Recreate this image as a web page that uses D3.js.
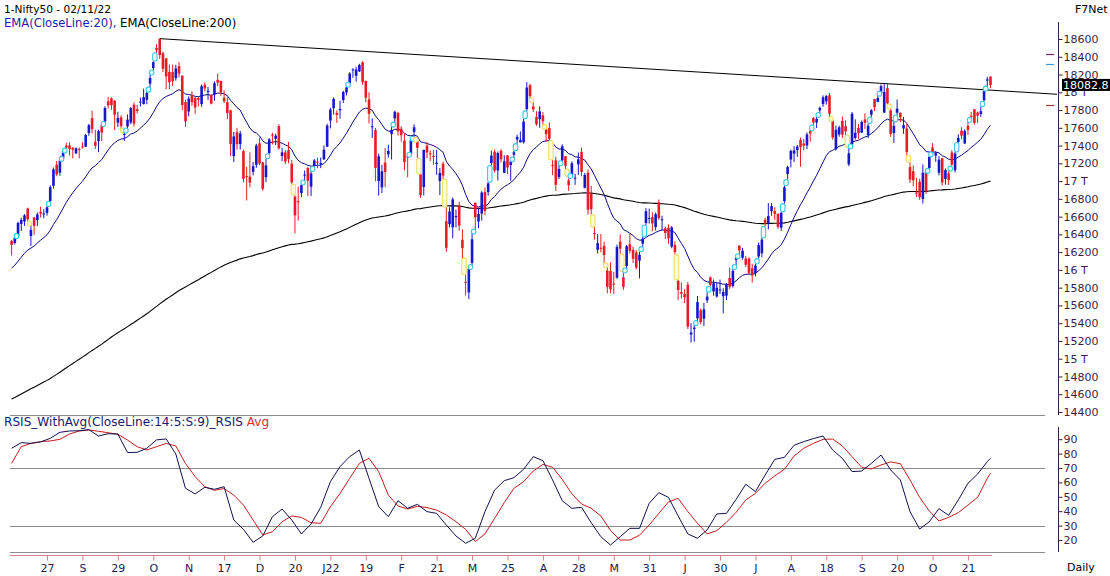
<!DOCTYPE html>
<html><head><meta charset="utf-8">
<script src="https://cdn.jsdelivr.net/npm/d3@7"></script>
<style>
body{margin:0;background:#fff}
svg{display:block}
text{font-family:"DejaVu Sans",Verdana,sans-serif;font-size:11px}
.t1{font-size:10.6px}
.t2{font-size:11.6px}
.t3{font-size:12.1px}
</style>
</head><body>
<svg id="chart" width="1110" height="576"></svg>
<script>
// ---- Daily OHLC, Nifty50, Aug 11 2021 .. Nov 2 2022 : [open, high, low, close]
const aug21=[[16327,16338,16162,16282],[16303,16375,16286,16364],[16385,16543,16385,16529],[16518,16589,16438,16563],[16545,16628,16496,16614],[16691,16701,16535,16569],[16382,16509,16270,16451],[16592,16592,16395,16497],[16562,16647,16495,16625],[16654,16712,16589,16634],[16627,16683,16582,16636],[16642,16723,16611,16705],[16775,16951,16764,16931],[16947,17153,16916,17132]];
const sep21=[[17185,17225,17055,17076],[17095,17245,17059,17234],[17262,17340,17255,17323],[17399,17430,17346,17377],[17401,17437,17287,17362],[17375,17383,17254,17353],[17313,17379,17304,17369],[17363,17378,17255,17355],[17390,17438,17367,17380],[17387,17532,17386,17519],[17540,17644,17510,17630],[17709,17793,17537,17585],[17443,17578,17361,17397],[17450,17578,17326,17562],[17630,17640,17450,17546],[17670,17843,17646,17823],[17897,17947,17819,17853],[17932,17943,17802,17855],[17906,17913,17576,17748],[17658,17781,17608,17711],[17718,17742,17585,17618]];
const oct21=[[17531,17557,17452,17532],[17615,17750,17581,17692],[17661,17833,17640,17822],[17861,17884,17613,17646],[17810,17857,17763,17790],[17886,17941,17840,17895],[17867,18041,17864,17946],[17916,18008,17865,17992],[18097,18197,18051,18162],[18273,18350,18248,18339],[18500,18543,18445,18477],[18602,18604,18377,18419],[18439,18458,18228,18266],[18382,18384,18033,18178],[18230,18314,18034,18114],[18229,18310,18070,18125],[18159,18310,18131,18268],[18295,18342,18167,18210],[18187,18190,17799,17857],[17890,17916,17613,17671]];
const nov21=[[17783,17954,17729,17929],[17970,18012,17847,17889],[17935,17947,17757,17829],[17935,17947,17839,17916],[17867,18087,17836,18068],[18085,18112,18010,18044],[18001,18061,17915,18017],[17967,17977,17863,17873],[17977,18123,17905,18102],[18140,18210,18071,18109],[18127,18132,17959,17999],[17939,18022,17879,17898],[17890,17945,17697,17765],[17796,17805,17280,17417],[17281,17553,17216,17503],[17550,17600,17354,17416],[17417,17564,17355,17537],[17338,17355,16985,17026],[17056,17160,16782,17054],[17051,17324,16931,16983]];
const dec21=[[17104,17214,17064,17167],[17183,17420,17149,17401],[17424,17489,17180,17197],[17210,17216,16891,16913],[17044,17251,16988,17177],[17315,17484,17308,17470],[17524,17543,17412,17517],[17476,17534,17406,17511],[17619,17640,17355,17368],[17283,17376,17225,17324],[17323,17351,17192,17221],[17348,17440,17200,17248],[17196,17237,16966,16985],[16825,16840,16410,16614],[16773,16937,16555,16771],[16865,16971,16819,16955],[17066,17119,16998,17073],[17149,17155,16834,17003],[16937,17112,16833,17086],[17177,17250,17161,17233],[17220,17263,17146,17213],[17201,17264,17146,17204],[17245,17400,17238,17354]];
const jan22=[[17388,17646,17383,17625],[17681,17827,17593,17805],[17820,17944,17750,17925],[17768,17797,17655,17745],[17797,17905,17704,17812],[17913,18017,17879,18003],[17998,18081,17964,18055],[18100,18227,18088,18212],[18257,18272,18163,18257],[18185,18286,18119,18256],[18235,18321,18228,18308],[18337,18350,18085,18114],[18129,18129,17885,17938],[17921,18000,17648,17757],[17613,17707,17486,17617],[17575,17599,16998,17149],[17001,17309,16837,17278],[16929,17182,16866,17110],[17208,17373,16932,17102],[17301,17410,17264,17340]];
const feb22=[[17529,17622,17244,17577],[17706,17794,17650,17780],[17767,17781,17511,17560],[17590,17617,17444,17516],[17456,17536,17119,17213],[17280,17294,17043,17266],[17300,17477,17300,17464],[17554,17640,17478,17606],[17451,17454,17257,17375],[17077,17077,16810,16843],[16933,17353,16839,17352],[17400,17440,17257,17322],[17314,17344,17225,17304],[17283,17348,17182,17276],[17193,17352,17070,17207],[17000,17148,16843,17092],[17195,17219,17024,17063],[16548,16706,16203,16248],[16516,16705,16478,16658],[16481,16815,16357,16794]];
const mar22=[[16593,16678,16478,16606],[16723,16768,16443,16498],[16339,16456,16133,16245],[15867,15945,15711,15863],[15747,16028,15671,16013],[16079,16418,16039,16345],[16757,16757,16447,16594],[16545,16694,16470,16630],[16633,16887,16555,16871],[16877,16928,16615,16663],[16876,16987,16837,16975],[17203,17344,17175,17287],[17329,17353,17096,17118],[17120,17334,17006,17316],[17342,17359,17208,17245],[17094,17292,17091,17223],[17289,17294,17080,17153],[17181,17236,17004,17222],[17297,17343,17250,17325],[17468,17523,17422,17498],[17436,17559,17435,17464]];
const apr22=[[17437,17703,17422,17670],[17810,18114,17791,18053],[18080,18095,17921,17957],[17842,17901,17779,17807],[17723,17787,17623,17640],[17698,17842,17600,17784],[17740,17779,17624,17674],[17584,17597,17442,17530],[17599,17663,17457,17476],[17183,17237,17067,17174],[17234,17275,16888,16958],[17045,17186,17023,17137],[17234,17414,17215,17392],[17281,17281,17136,17172],[17008,17054,16889,16954],[17065,17223,17060,17201],[17035,17083,16958,17038],[17189,17322,17071,17245],[17329,17378,17054,17103]];
const may22=[[16925,17092,16917,17069],[17096,17132,16623,16678],[16855,16946,16623,16683],[16415,16485,16340,16411],[16227,16404,16185,16302],[16249,16404,16197,16240],[16271,16318,16066,16167],[15993,16041,15736,15808],[15987,16084,15736,15782],[15845,15977,15728,15842],[15912,16284,15900,16259],[16318,16400,16180,16240],[15917,15984,15775,15809],[16044,16283,16003,16266],[16290,16414,16185,16215],[16225,16262,16078,16125],[16196,16223,16006,16026],[16105,16204,15904,16170],[16296,16370,16262,16352],[16528,16696,16506,16661],[16578,16690,16521,16585]];
const jun22=[[16594,16649,16438,16523],[16482,16646,16443,16628],[16761,16793,16563,16584],[16570,16610,16444,16570],[16469,16487,16347,16416],[16474,16514,16293,16356],[16263,16492,16244,16479],[16283,16324,16172,16202],[15877,15887,15659,15774],[15750,15858,15679,15732],[15729,15783,15626,15692],[15833,15864,15335,15361],[15272,15400,15183,15294],[15334,15382,15191,15350],[15455,15707,15419,15638],[15545,15565,15385,15413],[15451,15628,15368,15557],[15657,15749,15628,15699],[15916,15927,15815,15832],[15758,15892,15710,15850],[15701,15861,15687,15799],[15774,15891,15728,15780]];
const jul22=[[15704,15793,15511,15752],[15710,15852,15661,15835],[15909,16025,15785,15810],[15818,16011,15800,15989],[16113,16150,16053,16133],[16274,16275,16157,16220],[16137,16248,16115,16216],[16127,16158,16031,16058],[16129,16140,15950,15967],[16019,16070,15858,15938],[15964,16067,15927,16049],[16151,16308,16127,16279],[16187,16359,16143,16341],[16563,16588,16490,16521],[16523,16752,16456,16606],[16661,16752,16610,16719],[16662,16707,16564,16631],[16632,16635,16462,16484],[16475,16653,16438,16642],[16774,16947,16746,16930],[17079,17172,17018,17158]];
const aug22=[[17243,17356,17154,17340],[17310,17391,17215,17345],[17349,17407,17273,17388],[17463,17490,17161,17382],[17423,17474,17348,17398],[17401,17548,17359,17525],[17566,17566,17442,17535],[17711,17719,17631,17659],[17659,17724,17597,17699],[17797,17839,17765,17825],[17868,17965,17836,17944],[17898,17969,17861,17957],[17967,17992,17710,17758],[17682,17690,17467,17491],[17357,17625,17345,17578],[17525,17625,17500,17605],[17679,17727,17487,17523],[17619,17685,17519,17559],[17188,17380,17167,17313],[17414,17778,17400,17760]];
const sep22=[[17485,17695,17468,17543],[17598,17643,17476,17539],[17546,17683,17541,17666],[17695,17764,17587,17656],[17519,17650,17484,17624],[17748,17810,17722,17798],[17923,17925,17786,17833],[17891,17980,17889,17936],[17990,18088,17990,18070],[17771,18091,17771,18004],[18046,18096,17861,17877],[17796,17820,17497,17531],[17541,17667,17429,17622],[17770,17919,17744,17816],[17770,17773,17663,17718],[17593,17722,17532,17630],[17593,17642,17291,17327],[17157,17212,16979,17016],[17111,17176,16942,17008],[16871,17037,16820,16859],[16993,17027,16788,16819],[16799,17188,16747,17094]];
const oct22=[[17102,17114,16855,16887],[17147,17287,17117,17274],[17379,17428,17315,17331],[17287,17337,17216,17315],[17094,17280,17064,17241],[17257,17262,16950,16984],[17025,17142,16960,17124],[17087,17112,16956,17014],[17322,17348,17169,17186],[17122,17328,17098,17311],[17438,17527,17434,17486],[17568,17607,17472,17512],[17423,17584,17421,17564],[17622,17670,17520,17576],[17736,17778,17707,17731],[17808,17811,17637,17656],[17771,17783,17654,17737],[17756,17838,17723,17787],[17910,18022,17899,18012]];
const nov22=[[18131,18175,18060,18145],[18177,18178,18048,18082.8]];

// EMA starting values read at the first bar
const ema20Start = 16020;
const ema200Start = 14546;

// Trend line anchors: [bar index, price]
const trendFrom = [46, 18604];
const trendTo = [272, 18096];

// Small level marks at the right edge
const levelMarks = [18432, 18319, 17857];

// RSI panel (read every 3 bars)
const rsiBars = [0,3,6,9,12,15,18,21,24,27,30,33,36,39,42,45,48,51,54,57,60,63,66,69,72,75,78,81,84,87,90,93,96,99,102,105,108,111,114,117,120,123,126,129,132,135,138,141,144,147,150,153,156,159,162,165,168,171,174,177,180,183,186,189,192,195,198,201,204,207,210,213,216,219,222,225,228,231,234,237,240,243,246,249,252,255,258,261,264,267,270,273,276,279,282,285,288,291,294,297,300,303,304];
const rsiValues = [83.7,87.6,87.1,88.1,90.6,94.8,95.7,95.9,96.6,92.2,93.8,93.6,80.7,80.9,83.7,89.5,90.2,79.7,55.9,52.0,56.6,55.2,57.0,33.9,27.4,18.4,22.8,36.2,41.5,33.9,24.2,31.1,42.7,60.5,71.0,77.9,82.5,62.8,43.2,36.2,47.3,42.0,44.8,39.7,38.5,30.4,22.8,17.7,21.2,39.7,54.7,61.2,63.3,69.1,77.9,75.1,61.7,47.3,42.0,42.7,32.0,22.3,16.5,22.3,28.1,28.1,45.5,52.9,49.6,36.7,24.2,21.2,27.0,38.1,38.5,48.2,58.7,53.6,65.1,76.0,77.4,85.8,88.3,90.4,92.2,82.5,76.7,67.5,67.9,73.2,79.0,68.6,61.7,39.7,27.6,32.7,41.8,37.1,47.8,59.4,65.8,74.4,76.7];
const rsiAvgValues = [73.2,84.8,87.1,88.3,88.8,89.9,93.6,95.7,96.4,95.5,94.5,93.4,89.4,84.8,82.5,84.8,87.1,85.3,73.2,64.0,57.0,54.5,55.7,51.2,44.3,33.9,23.5,25.8,32.7,36.7,35.7,32.0,31.6,43.1,52.4,62.8,73.2,76.7,67.5,51.2,43.6,41.5,43.4,42.5,40.8,37.4,32.7,27.4,18.9,24.2,35.0,46.0,55.9,60.5,67.9,72.5,70.5,62.1,52.0,45.0,42.0,36.7,26.5,20.0,20.0,23.3,30.4,38.5,46.4,49.0,39.7,31.6,24.2,26.5,32.3,39.2,47.8,52.4,59.4,64.5,69.1,78.3,83.7,87.1,89.9,90.1,85.3,77.9,70.5,69.3,72.1,74.2,73.0,61.7,49.6,40.1,33.2,35.7,39.0,44.3,49.6,62.8,66.3];

// Axes
const priceTicks = [14400,14600,14800,15000,15200,15400,15600,15800,16000,16200,16400,16600,16800,17000,17200,17400,17600,17800,18000,18200,18400,18600];
const rsiTicks = [20,30,40,50,60,70,80,90];
const rsiLevels = [70,30];
const dateTickBars = [11,22,33,44,55,66,77,88,99,110,121,132,143,154,165,176,187,198,209,220,231,242,253,264,275,286,297];
const dateTickLabels = ["27","S","29","O","N","17","D","20","J22","19","F","21","M","25","A","28","M","31","J","30","J","A","18","S","20","O","21"];

// ---------------------------------------------------------------
const bars = [].concat(aug21,sep21,oct21,nov21,dec21,jan22,feb22,mar22,apr22,may22,jun22,jul22,aug22,sep22,oct22,nov22);
const data = bars.map((b,i)=>({i, o:b[0], h:b[1], l:b[2], c:b[3]}));
const N = data.length;

const svg = d3.select('#chart');
const x = d3.scaleLinear().domain([0, N-1]).range([11.6, 990.5]);
const y = d3.scaleLinear().domain([14400, 18600]).range([412, 39]);
const yr = d3.scaleLinear().domain([20, 90]).range([540, 439.2]);

const RED = '#e81c24', BLUE = '#1616cc', AXC = '#3a1f4e', GRID = '#8c8c8c';

// panel separator / RSI grid lines
svg.append('line').attr('x1',10).attr('x2',1045).attr('y1',415.5).attr('y2',415.5).attr('stroke',GRID);
svg.selectAll('.rl').data(rsiLevels).join('line')
  .attr('x1',10).attr('x2',1045).attr('y1',d=>Math.round(yr(d))+0.5).attr('y2',d=>Math.round(yr(d))+0.5).attr('stroke',GRID);
svg.append('line').attr('x1',10).attr('x2',1045).attr('y1',552.5).attr('y2',552.5).attr('stroke',GRID);

// EMA lines
function ema(start, period){
  const k = 2/(period+1); const out=[start];
  for(let i=1;i<N;i++) out.push(out[i-1] + k*(data[i].c - out[i-1]));
  return out;
}
const e20 = ema(ema20Start, 20), e200 = ema(ema200Start, 200);
const ln = d3.line().x((d,i)=>x(i)).y(d=>y(d));
svg.append('path').attr('d', ln(e200)).attr('fill','none').attr('stroke','#000').attr('stroke-width',1.1);
svg.append('path').attr('d', ln(e20)).attr('fill','none').attr('stroke','#0a0a80').attr('stroke-width',1);

// trend line (through two highs, extended to the axis)
const slope = (trendTo[1]-trendFrom[1])/(trendTo[0]-trendFrom[0]);
const iEnd = x.invert(1057);
svg.append('line')
  .attr('x1', x(trendFrom[0])).attr('y1', y(trendFrom[1]))
  .attr('x2', x(iEnd)).attr('y2', y(trendFrom[1] + slope*(iEnd-trendFrom[0])))
  .attr('stroke','#000').attr('stroke-width',1);

// candles
const cg = svg.append('g');
cg.selectAll('.wick').data(data).join('line')
  .attr('x1',d=>x(d.i)).attr('x2',d=>x(d.i)).attr('y1',d=>y(d.h)).attr('y2',d=>y(d.l))
  .attr('stroke',d=>d.c>=d.o?BLUE:RED).attr('stroke-width',1);
cg.selectAll('.body').data(data).join('rect')
  .attr('x',d=>x(d.i)-1.3).attr('width',2.6)
  .attr('y',d=>y(Math.max(d.o,d.c)))
  .attr('height',d=>Math.max(1, Math.abs(y(d.o)-y(d.c))))
  .attr('fill',d=>d.c>=d.o?BLUE:RED);

// gap markers (between a bar and the previous bar)
const gaps = [];
for(let i=1;i<N;i++){
  if(data[i].l > data[i-1].h) gaps.push({i, a:data[i-1].h, b:data[i].l, up:true});
  else if(data[i].h < data[i-1].l) gaps.push({i, a:data[i].h, b:data[i-1].l, up:false});
}
svg.selectAll('.gap').data(gaps).join('rect')
  .attr('x',d=>x(d.i-0.5)-2.2).attr('width',4.4)
  .attr('y',d=>{const h=y(d.a)-y(d.b); return h<5 ? (y(d.a)+y(d.b))/2-2.5 : y(d.b);})
  .attr('height',d=>Math.max(5, y(d.a)-y(d.b)))
  .attr('rx',2.2).attr('ry',2.2)
  .attr('fill',d=>d.up?'#f2fcff':'#fffbe0')
  .attr('stroke',d=>d.up?'#3cc8e0':'#eee060').attr('stroke-width',1.1);

// right price axis
svg.append('line').attr('x1',1058.5).attr('x2',1058.5).attr('y1',22).attr('y2',415).attr('stroke',AXC);
const pAxis = d3.axisRight(y).tickValues(priceTicks).tickSize(4).tickPadding(1)
  .tickFormat(v=> v%1000===0 ? (v/1000)+' T' : String(v));
const pg = svg.append('g').attr('transform','translate(1058.5,0)').call(pAxis);
pg.select('.domain').remove();
pg.selectAll('line').attr('stroke',AXC);
pg.selectAll('text').attr('fill',AXC).style('font-family','"DejaVu Sans",Verdana,sans-serif').style('font-size','11px');

// level marks
const markColors = ['#6a2a6a','#3a9ae0','#a03a3a'];
svg.selectAll('.lm').data(levelMarks).join('line')
  .attr('x1',1046).attr('x2',1054).attr('y1',d=>Math.round(y(d))+0.5).attr('y2',d=>Math.round(y(d))+0.5)
  .attr('stroke',(d,i)=>markColors[i]).attr('stroke-width',1.2);

// last price tag (drawn over the axis labels, as in the source)
const last = data[N-1].c;
svg.append('rect').attr('x',1062).attr('y',y(last)-6).attr('width',48).attr('height',12).attr('fill','#000');
svg.append('text').attr('x',1063).attr('y',y(last)+4).attr('fill','#fff').text(last.toFixed(1));

// RSI lines
const rsiPts = rsiBars.map((b,k)=>({i:b, v:rsiValues[k]}));
const avgPts = rsiBars.map((b,k)=>({i:b, v:rsiAvgValues[k]}));
const rl = d3.line().x(d=>x(d.i)).y(d=>yr(d.v));
svg.append('path').attr('d', rl(avgPts)).attr('fill','none').attr('stroke','#c41e1e').attr('stroke-width',1);
svg.append('path').attr('d', rl(rsiPts)).attr('fill','none').attr('stroke','#10104e').attr('stroke-width',1);

// RSI axis
svg.append('line').attr('x1',1058.5).attr('x2',1058.5).attr('y1',427).attr('y2',552).attr('stroke',AXC);
const rAxis = d3.axisRight(yr).tickValues(rsiTicks).tickSize(4).tickPadding(1);
const rg = svg.append('g').attr('transform','translate(1058.5,0)').call(rAxis);
rg.select('.domain').remove();
rg.selectAll('line').attr('stroke',AXC);
rg.selectAll('text').attr('fill',AXC).style('font-family','"DejaVu Sans",Verdana,sans-serif').style('font-size','11px');

// date axis
svg.append('line').attr('x1',10).attr('x2',992).attr('y1',555.5).attr('y2',555.5).attr('stroke','#d88088');
const dAxis = d3.axisBottom(x).tickValues(dateTickBars).tickSize(5).tickPadding(4)
  .tickFormat((d,k)=>dateTickLabels[k]);
const dg = svg.append('g').attr('transform','translate(0,555.5)').call(dAxis);
dg.select('.domain').remove();
dg.selectAll('line').attr('stroke','#d88088');
dg.selectAll('text').attr('fill','#1c1c50').style('font-family','"DejaVu Sans",Verdana,sans-serif').style('font-size','11px');

// titles
svg.append('text').attr('class','t1').attr('x',4).attr('y',13).attr('fill','#000').text('1-Nifty50 - 02/11/22');
const t2 = svg.append('text').attr('class','t2').attr('x',4).attr('y',27);
t2.append('tspan').attr('fill','#1e1ea8').text('EMA(CloseLine:20),');
t2.append('tspan').attr('fill','#000').text(' EMA(CloseLine:200)');
const t3 = svg.append('text').attr('class','t3').attr('x',4).attr('y',426);
t3.append('tspan').attr('fill','#1a1a70').text('RSIS_WithAvg(CloseLine:14:5:S:9)_RSIS');
t3.append('tspan').attr('fill','#e03030').text(' Avg');
svg.append('text').attr('x',1075).attr('y',13).attr('fill','#000').text('F7Net');
svg.append('text').attr('x',1067).attr('y',571).attr('fill','#000').text('Daily');
</script>
</body></html>
